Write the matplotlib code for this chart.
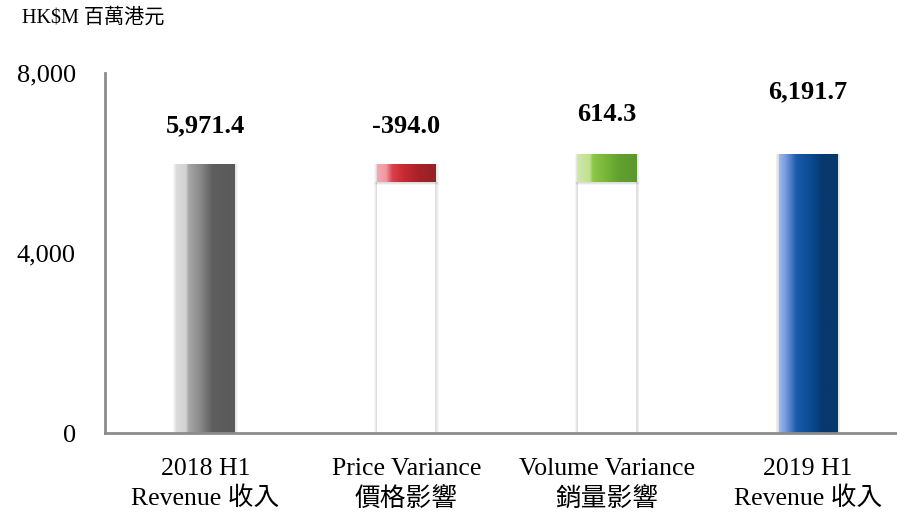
import numpy as np
import matplotlib.pyplot as plt
from matplotlib.colors import LinearSegmentedColormap
from matplotlib.patches import Rectangle

plt.rcParams['font.family'] = ['Liberation Serif', 'Noto Sans CJK TC']

categories = ['2018 H1\nRevenue 收入', 'Price Variance\n價格影響',
              'Volume Variance\n銷量影響', '2019 H1\nRevenue 收入']
values = [5971.4, -394.0, 614.3, 6191.7]
is_total = [True, False, False, True]
value_labels = ['5,971.4', '-394.0', '614.3', '6,191.7']
label_heights = [6820, 6820, 7070, 7580]
y_ticks = [0, 4000, 8000]
y_ticklabels = ['0', '4,000', '8,000']

gradients = [
    [(0.0, '#dcdcdc'), (0.17, '#d2d2d2'), (0.21, '#a8a8a8'), (0.42, '#888888'), (0.62, '#5e5e5e'), (1.0, '#5a5a5a')],
    [(0.0, '#f4aab0'), (0.15, '#ee9aa0'), (0.26, '#d8424a'), (0.45, '#c82a31'), (0.72, '#a62228'), (1.0, '#962026')],
    [(0.0, '#cce8a8'), (0.2, '#c0e090'), (0.25, '#8cc84a'), (0.45, '#7ab83a'), (0.7, '#62a030'), (1.0, '#5a982e')],
    [(0.0, '#9cbaee'), (0.1, '#7c9ee0'), (0.3, '#1a5aa8'), (0.55, '#0a4a90'), (0.75, '#06386c'), (1.0, '#063a70')],
]

fig = plt.figure(figsize=(8.97, 5.13), dpi=100)
ax = fig.add_axes([105 / 897, 80 / 513, 792 / 897, 360 / 513])
ax.set_xlim(-0.5, 3.443)
ax.set_ylim(0, 8000)

width = 0.29
px_x = 1 / 201
px_y = 8000 / 360


def shadow(x0, y0, w, h, z):
    for k in range(1, 5):
        ax.add_patch(Rectangle((x0 - k * px_x * 0.8, y0 - k * px_y * 0.8),
                               w + 2 * k * px_x * 0.8, h + k * px_y * 0.8 + 0.5 * px_y,
                               facecolor='#808080', edgecolor='none', alpha=0.07, zorder=z))


running = 0.0
grad = np.linspace(0, 1, 256).reshape(1, -1)
for i, v in enumerate(values):
    if is_total[i]:
        lo, hi = 0.0, v
        running = v
    else:
        lo, hi = sorted([running, running + v])
        # invisible base under the floating segment
        shadow(i - width / 2, 0, width, lo, 1)
        ax.add_patch(Rectangle((i - width / 2, 0), width, lo, facecolor='white',
                               edgecolor='none', zorder=2))
        running += v
    shadow(i - width / 2, lo, width, hi - lo, 3)
    rect = Rectangle((i - width / 2, lo), width, hi - lo, facecolor='none',
                     edgecolor='none', zorder=4)
    ax.add_patch(rect)
    cmap = LinearSegmentedColormap.from_list(f'g{i}', gradients[i])
    im = ax.imshow(grad, cmap=cmap, aspect='auto', zorder=4,
                   extent=(i - width / 2, i + width / 2, lo, hi))
    im.set_clip_path(rect)
    ax.text(i, label_heights[i], value_labels[i], ha='center', va='center',
            fontsize=19, fontweight='bold', color='black')

for s in ['top', 'right']:
    ax.spines[s].set_visible(False)
for s in ['left', 'bottom']:
    ax.spines[s].set_color('#8c8c8c')
    ax.spines[s].set_linewidth(2)
    ax.spines[s].set_zorder(6)

ax.set_yticks(y_ticks)
ax.set_yticklabels(y_ticklabels, fontsize=19)
ax.set_xticks(range(len(categories)))
ax.set_xticklabels(categories, fontsize=18.5, linespacing=1.35)
ax.tick_params(axis='y', length=0, pad=21)
ax.tick_params(axis='x', length=0, pad=18)

fig.text(22 / 897, 1 - 18 / 513, 'HK$M 百萬港元', fontsize=14.5, ha='left', va='center')

fig.savefig('out.png', dpi=100)
